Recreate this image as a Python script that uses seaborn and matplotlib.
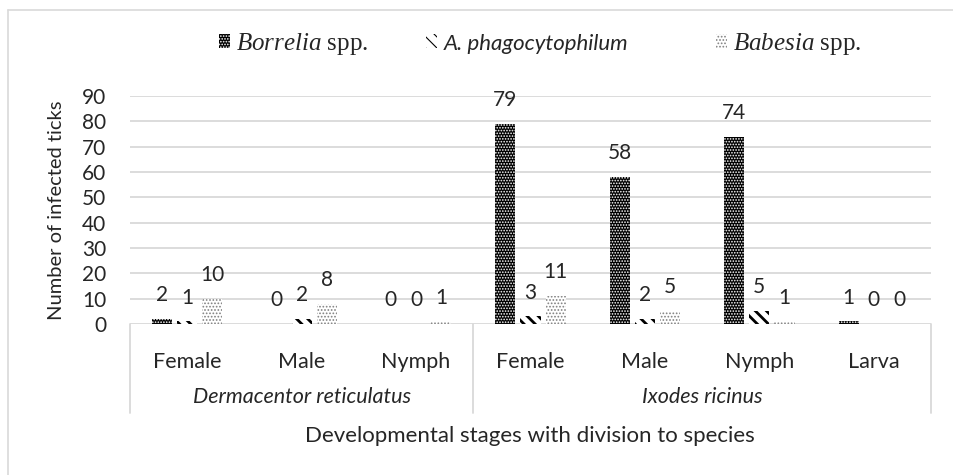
import numpy as np
import pandas as pd
import seaborn as sns
import matplotlib.pyplot as plt
import matplotlib.patches as mpatches
import matplotlib.transforms as mtransforms
from matplotlib.lines import Line2D

# Data
species = ['Dermacentor reticulatus'] * 3 + ['Ixodes ricinus'] * 4
stages = ['Female', 'Male', 'Nymph', 'Female', 'Male', 'Nymph', 'Larva']
borrelia = [2, 0, 0, 79, 58, 74, 1]
anaplasma = [1, 2, 0, 3, 2, 5, 0]
babesia = [10, 8, 1, 11, 5, 1, 0]
pathogens = ['Borrelia spp.', 'A. phagocytophilum', 'Babesia spp.']
y_ticks = list(range(0, 91, 10))

# unique key for every stage/species pair
groups = [f'{sp} | {st}' for sp, st in zip(species, stages)]
df = pd.DataFrame({'group': groups * 3,
                   'pathogen': np.repeat(pathogens, len(groups)),
                   'count': borrelia + anaplasma + babesia})

sns.set_style('white')
plt.rcParams['font.family'] = ['Lato', 'DejaVu Sans']
plt.rcParams['mathtext.fontset'] = 'custom'
plt.rcParams['mathtext.it'] = 'Liberation Serif:italic'
plt.rcParams['mathtext.rm'] = 'Liberation Serif'
plt.rcParams['hatch.linewidth'] = 0.8

W, H = 954, 475
fig = plt.figure(figsize=(W / 100, H / 100), dpi=100)
ax = fig.add_axes([130 / W, 1 - 324 / H, 801 / W, 228 / H])

sns.barplot(data=df, x='group', y='count', hue='pathogen', order=groups,
            hue_order=pathogens, width=0.66, gap=0.2, errorbar=None,
            legend=False, ax=ax)

# bar patterns: black with white dots, thick diagonals, grey dots
styles = [dict(facecolor='black', edgecolor='white', hatch='......', hlw=0.8),
          dict(facecolor='white', edgecolor='black', hatch='\\\\\\', hlw=2.0),
          dict(facecolor='white', edgecolor='#808080', hatch='.....', hlw=0.8)]
for cont, st in zip(ax.containers, styles):
    for p in cont.patches:
        p.set_facecolor(st['facecolor'])
        p.set_edgecolor(st['edgecolor'])
        p.set_hatch(st['hatch'])
        p.set_linewidth(0)
        if hasattr(p, 'set_hatch_linewidth'):
            p.set_hatch_linewidth(st['hlw'])
    ax.bar_label(cont, padding=10, fontsize=15)

ax.set_xlim(-0.5, 6.5)
ax.set_ylim(0, 90)
ax.set_yticks(y_ticks)
ax.set_xticks(range(len(stages)))
ax.set_xticklabels(stages)
ax.tick_params(axis='x', length=0, pad=20, labelsize=15.5)
ax.tick_params(axis='y', length=0, pad=17, labelsize=15)
ax.grid(axis='y', color='#d9d9d9', lw=1.3)
ax.set_axisbelow(True)
sns.despine(ax=ax, left=True, bottom=True)
ax.set_xlabel('')
ax.set_ylabel('Number of infected ticks', fontsize=14.5)
ax.yaxis.set_label_coords(-65 / 801, 0.5)

# multi-level category axis
trans = mtransforms.blended_transform_factory(ax.transData, ax.transAxes)
box_bottom = (324 - 413) / 228
for xs in [-0.5, 2.5, 6.5]:
    ax.plot([xs, xs], [0, box_bottom], color='#d9d9d9', lw=1.3,
            transform=trans, clip_on=False)
ax.text(1, (324 - 397) / 228, 'Dermacentor reticulatus', style='italic',
        fontsize=15.5, ha='center', va='center', transform=trans)
ax.text(4.5, (324 - 397) / 228, 'Ixodes ricinus', style='italic',
        fontsize=15.5, ha='center', va='center', transform=trans)

fig.text(530 / W, 1 - 436 / H, 'Developmental stages with division to species',
         fontsize=16, ha='center', va='center')

# legend, one entry at a time so the spacing follows the reference
labels = [r'$\mathit{Borrelia}$ spp.', 'A. phagocytophilum',
          r'$\mathit{Babesia}$ spp.']
leg_x = [219, 426, 716]
for i, (s, lab, lx) in enumerate(zip(styles, labels, leg_x)):
    h = mpatches.Patch(facecolor=s['facecolor'], edgecolor=s['edgecolor'],
                       hatch=s['hatch'], lw=0)
    leg = fig.legend([h], [lab], loc='center left', bbox_to_anchor=(lx / W, 1 - 44 / H),
                     frameon=False, handlelength=0.45, handleheight=0.45,
                     handletextpad=0.25, borderpad=0, borderaxespad=0,
                     fontsize=18)
    t = leg.texts[0]
    if i == 1:
        t.set_fontstyle('italic')
        t.set_fontsize(16)
    else:
        t.set_fontfamily('Liberation Serif')

# chart area border
border = dict(color='#d9d9d9', lw=1.2, transform=fig.transFigure)
fig.add_artist(Line2D([8 / W, 8 / W], [0, 1 - 10 / H], **border))
fig.add_artist(Line2D([8 / W, 1], [1 - 10 / H, 1 - 10 / H], **border))

fig.savefig('out.png', dpi=100)
